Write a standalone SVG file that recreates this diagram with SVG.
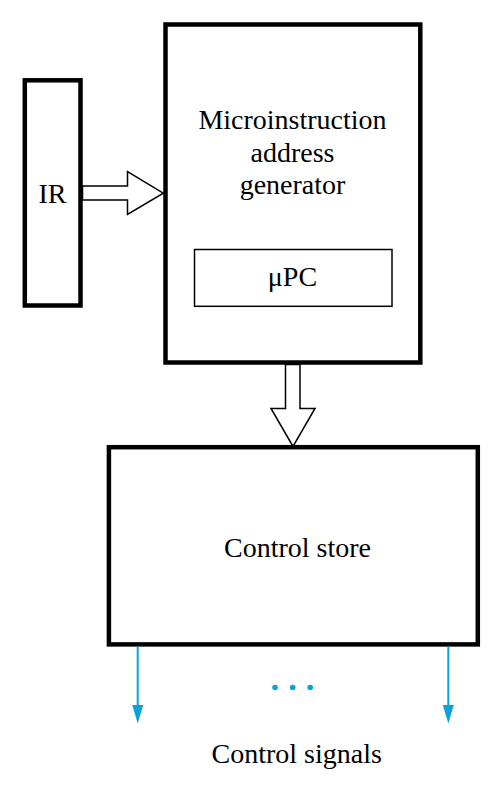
<svg xmlns="http://www.w3.org/2000/svg" width="502" height="794" viewBox="0 0 502 794">
<style>
.box{fill:#fff;stroke:#000;stroke-width:4.5}
.thin{fill:#fff;stroke:#000;stroke-width:1.5}
.lbl{font-family:"Liberation Serif","Times New Roman",serif;font-size:28px;fill:#000;text-anchor:middle}
.sig{stroke:#0aa3d9;stroke-width:2;fill:none}
.head{fill:#0aa3d9}
.dot{fill:#0aa3d9}
</style>
<rect width="502" height="794" fill="#fff"/>
<g id="ir">
<rect class="box" x="24.8" y="80.3" width="55.7" height="225.2"/>
<text class="lbl" x="52.5" y="203">IR</text>
</g>
<g id="generator">
<rect class="box" x="165.5" y="24.5" width="254.8" height="338"/>
<text class="lbl" x="292.5" y="129.3">Microinstruction</text>
<text class="lbl" x="292.5" y="161.7">address</text>
<text class="lbl" x="292.5" y="193.5">generator</text>
</g>
<g id="upc">
<rect class="thin" x="194.5" y="249.5" width="197.5" height="56.8"/>
<text class="lbl" x="292.5" y="286">μPC</text>
</g>
<g id="controlstore">
<rect class="box" x="108.9" y="447.2" width="368.9" height="197.2"/>
<text class="lbl" x="297.5" y="556.7">Control store</text>
</g>
<g id="connectors">
<polygon class="thin" points="82.5,186 127.5,186 127.5,171.5 163.3,193.2 127.5,214.5 127.5,200 82.5,200"/>
<polygon class="thin" points="285.5,364.5 300,364.5 300,408.5 315,408.5 293,446.5 271,408.5 285.5,408.5"/>
<line class="sig" x1="137.7" y1="646.5" x2="137.7" y2="706"/>
<polygon class="head" points="132.2,705 143.2,705 137.7,723.5"/>
<line class="sig" x1="448.3" y1="646.5" x2="448.3" y2="706"/>
<polygon class="head" points="442.8,705 453.8,705 448.3,723.5"/>
<circle class="dot" cx="275" cy="687.5" r="2.8"/>
<circle class="dot" cx="292.7" cy="687.5" r="2.8"/>
<circle class="dot" cx="310.2" cy="687.5" r="2.8"/>
</g>
<text class="lbl" x="296.7" y="763">Control signals</text>
</svg>
